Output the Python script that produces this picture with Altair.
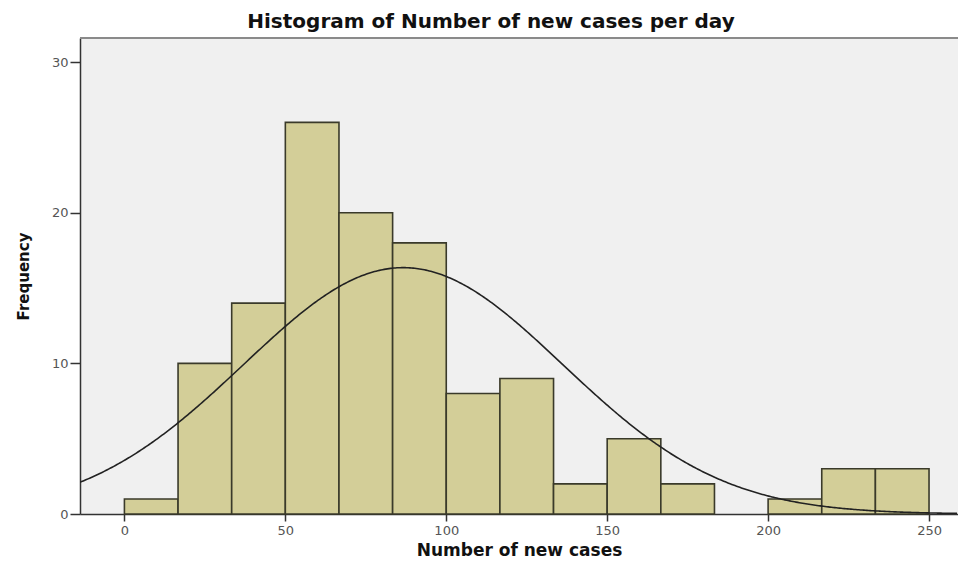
import altair as alt
import pandas as pd

# Histogram bins (number of new cases per day) and their frequencies
bin_lo = [0, 16.667, 33.333, 50, 66.667, 83.333, 100, 116.667, 133.333, 150, 166.667, 183.333, 200, 216.667, 233.333]
bin_hi = [16.667, 33.333, 50, 66.667, 83.333, 100, 116.667, 133.333, 150, 166.667, 183.333, 200, 216.667, 233.333, 250]
counts = [1, 10, 14, 26, 20, 18, 8, 9, 2, 5, 2, 0, 1, 3, 3]

x_ticks = [0, 50, 100, 150, 200, 250]
y_ticks = [0, 10, 20, 30]

# Fitted normal curve parameters
fit_mean = 86.6
fit_sd = 49.6
n_total = 122
bin_width = 16.667

x_domain = [-13.8, 259.0]
y_domain = [0, 31.6]

W, H = 878, 476

bars_df = pd.DataFrame({"lo": bin_lo, "hi": bin_hi, "count": counts})
bars_df = bars_df[bars_df["count"] > 0]

xscale = alt.Scale(domain=x_domain, nice=False, zero=False)
yscale = alt.Scale(domain=y_domain, nice=False, zero=False)

bars = alt.Chart(bars_df).mark_bar(
    fill="#D3CE98", stroke="#3a3a2a", strokeWidth=1.6, opacity=1
).encode(
    x=alt.X("lo:Q", scale=xscale,
            axis=alt.Axis(values=x_ticks, title="Number of new cases", tickSize=7,
                          labelPadding=3, titlePadding=5, titleFontSize=17)),
    x2="hi:Q",
    y=alt.Y("count:Q", scale=yscale,
            axis=alt.Axis(values=y_ticks, title="Frequency", tickSize=10,
                          labelPadding=2, titlePadding=20, titleFontSize=15)),
    y2=alt.datum(0),
)

curve = alt.Chart(alt.sequence(x_domain[0], x_domain[1], 0.5, as_="x")).transform_calculate(
    y=f"{n_total} * {bin_width} * densityNormal(datum.x, {fit_mean}, {fit_sd})"
).mark_line(color="#222222", strokeWidth=1.6, clip=True).encode(
    x=alt.X("x:Q", scale=xscale),
    y=alt.Y("y:Q", scale=yscale),
)

top_border = alt.Chart(pd.DataFrame({"v": [0]})).mark_rule(
    color="#8a8a8a", strokeWidth=2
).encode(x=alt.value(0), x2=alt.value(W), y=alt.value(0))

chart = alt.layer(bars, curve, top_border).properties(
    width=W,
    height=H,
    autosize=alt.AutoSizeParams(type="none"),
    padding={"left": 72, "top": 30, "right": 0, "bottom": 45},
    background="white",
    title=alt.TitleParams(
        "Histogram of Number of new cases per day",
        font="DejaVu Sans", fontSize=20, fontWeight="bold", color="#111111",
        anchor="middle", dx=-28, offset=5,
    ),
).configure_view(
    fill="#F0F0F0", stroke=None
).configure_axis(
    grid=False,
    domainColor="#333333",
    domainWidth=1.5,
    tickColor="#333333",
    tickWidth=1.5,
    labelColor="#555555",
    labelFont="DejaVu Sans",
    labelFontSize=13,
    titleFont="DejaVu Sans",
    titleFontWeight="bold",
    titleColor="#111111",
)

chart.save("out.html", embed_options={"renderer": "svg", "actions": False})
